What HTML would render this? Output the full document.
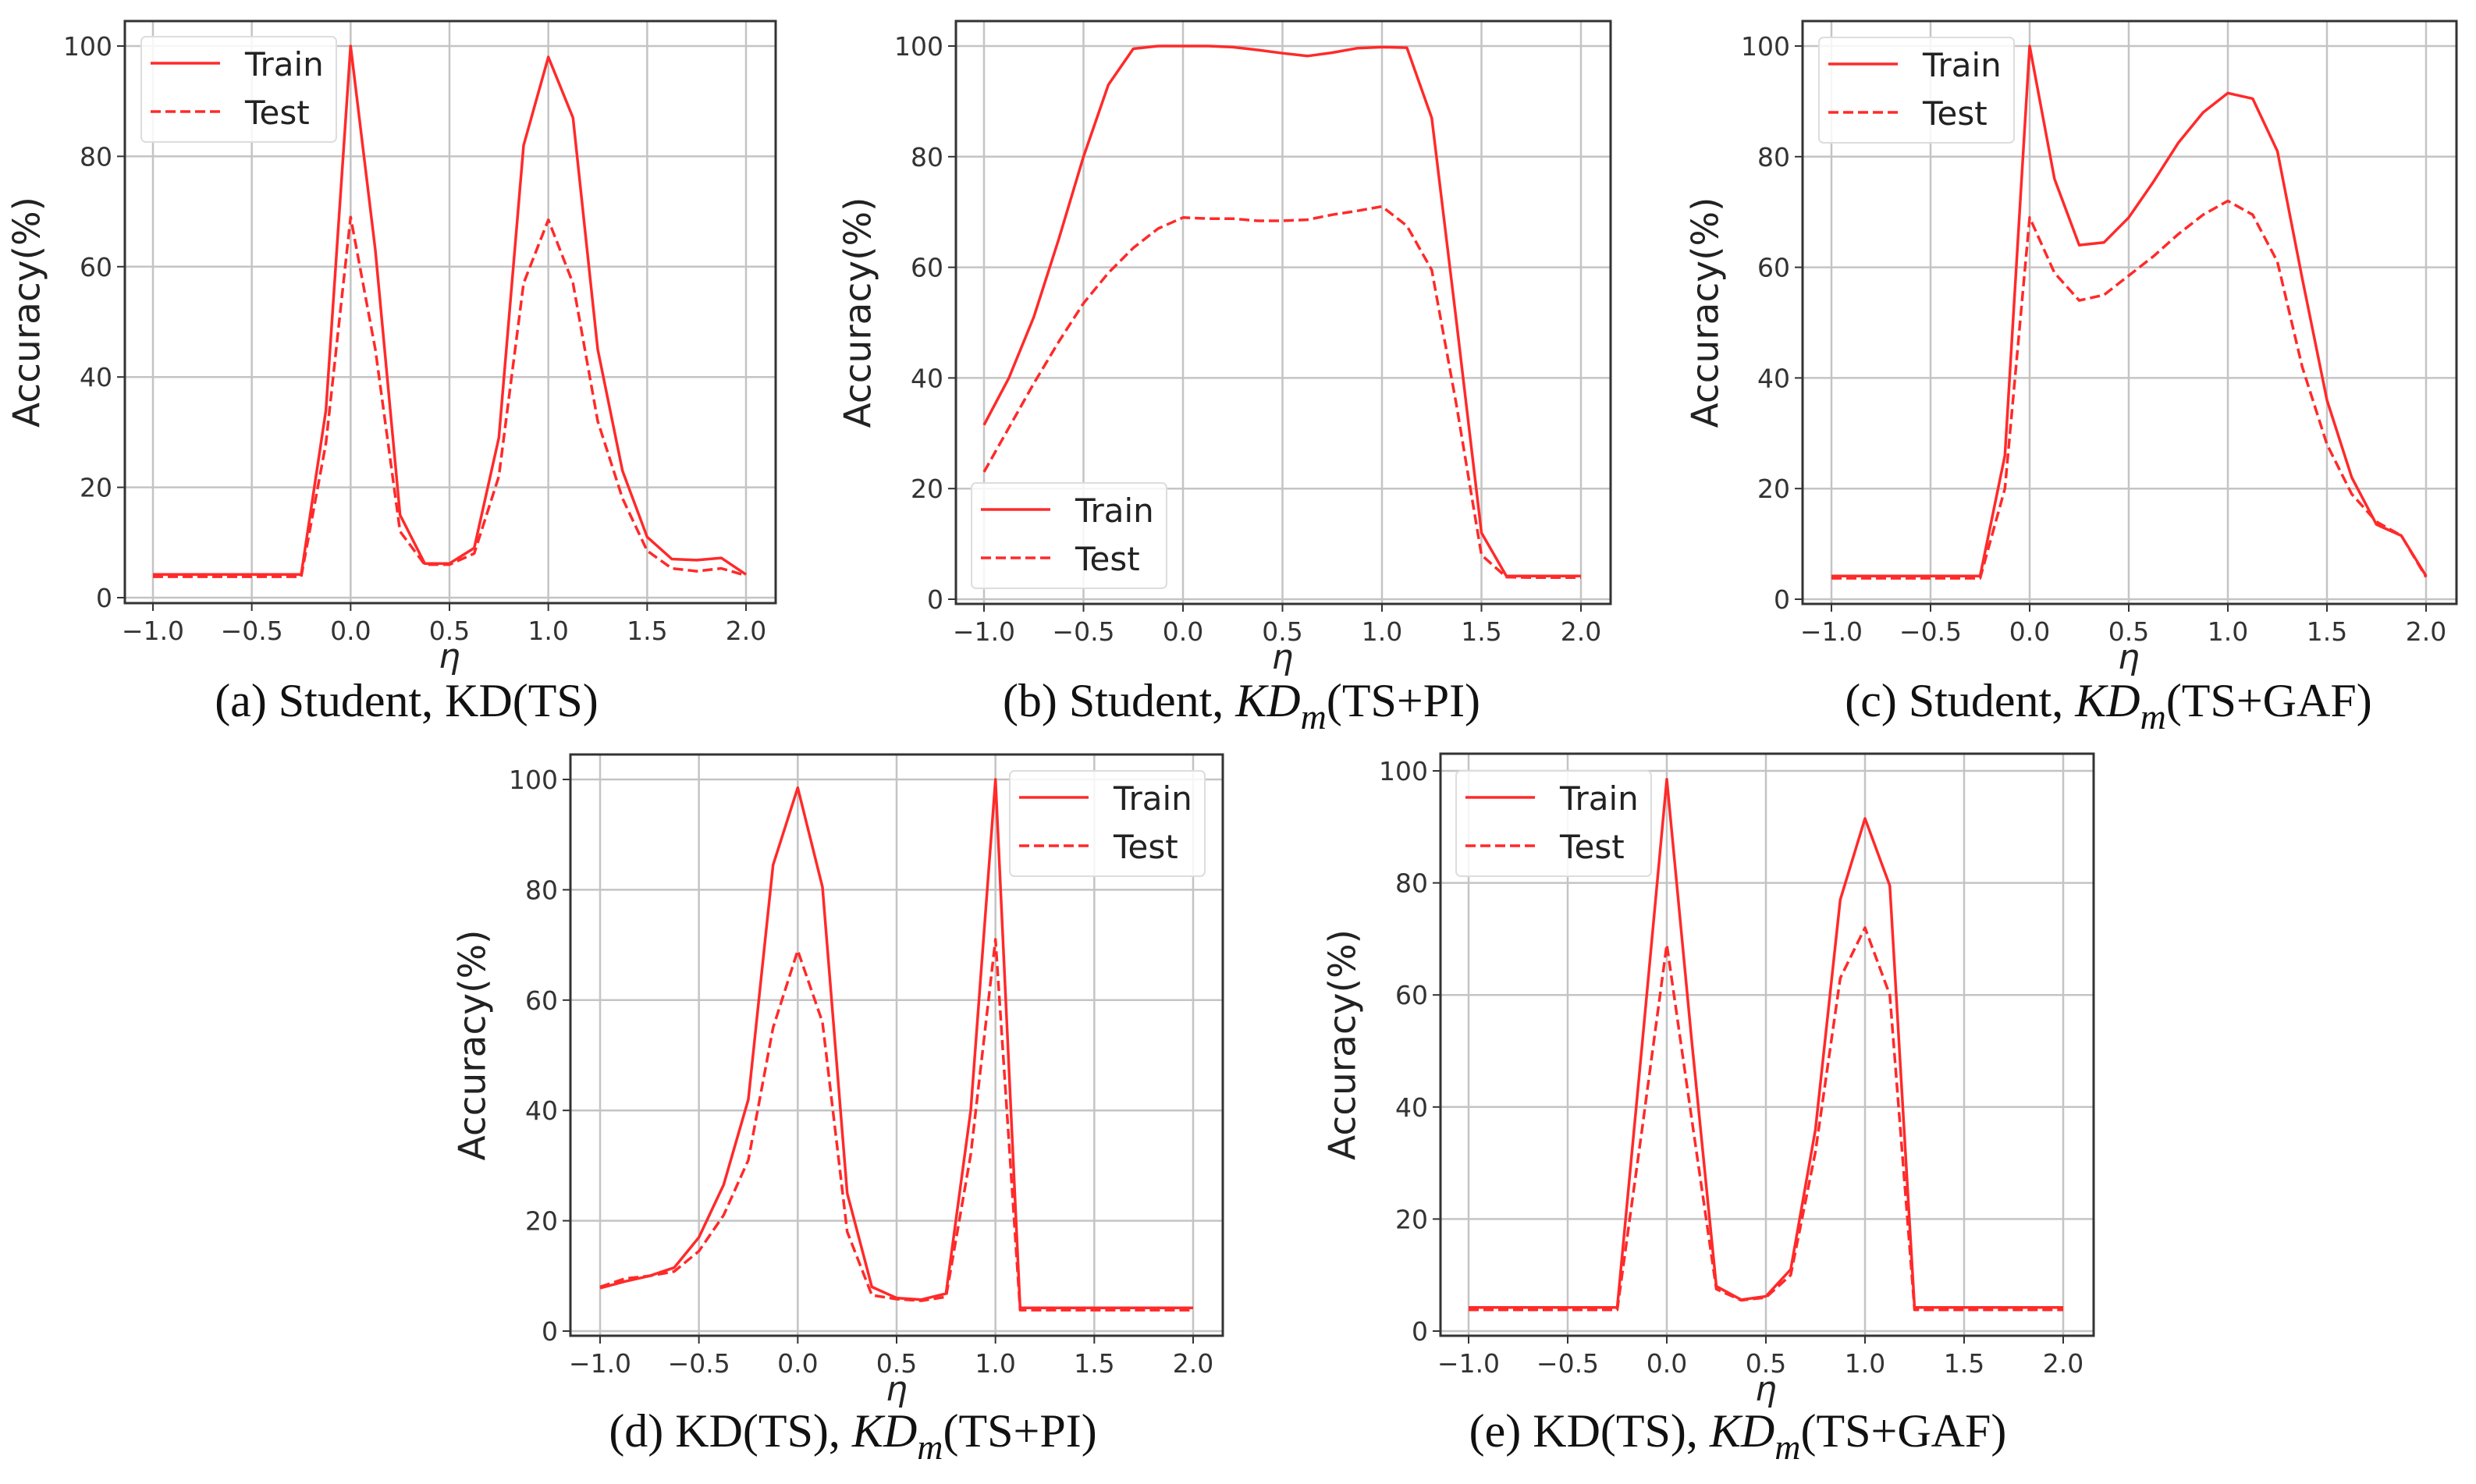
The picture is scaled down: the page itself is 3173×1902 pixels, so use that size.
<!DOCTYPE html>
<html><head><meta charset="utf-8"><style>
html,body{margin:0;padding:0;background:#fff;}
svg{display:block;}
</style></head><body>
<svg id="fig" xmlns="http://www.w3.org/2000/svg" width="3173" height="1902" viewBox="0 0 3173 1902"></svg>
<script>
const etaValues = [-1,-0.875,-0.75,-0.625,-0.5,-0.375,-0.25,-0.125,0,0.125,0.25,0.375,0.5,0.625,0.75,0.875,1,1.125,1.25,1.375,1.5,1.625,1.75,1.875,2];
const xTickLabels = ["-1.0","-0.5","0.0","0.5","1.0","1.5","2.0"];
const xTickValues = [-1,-0.5,0,0.5,1,1.5,2];
const yTickValues = [0,20,40,60,80,100];
const trainA = [4.2,4.2,4.2,4.2,4.2,4.2,4.2,34,100,63,15,6.2,6.2,9,29,82,98,87,45,23,11,7,6.8,7.2,4.2];
const testA  = [3.8,3.8,3.8,3.8,3.8,3.8,3.8,28,69,45,12,6,6,8,22,57,68.5,57,32,18,8.5,5.3,4.8,5.3,4];
const trainB = [31.5,40,51,65,80,93,99.5,100,100,100,99.8,99.3,98.7,98.2,98.8,99.6,99.8,99.7,87,50,12,4.2,4.2,4.2,4.2];
const testB  = [23,31,39,46.5,53.5,59,63.5,67,69,68.8,68.8,68.4,68.4,68.6,69.5,70.2,71,67.5,59.5,35,8,4,3.9,3.9,3.9];
const trainC = [4.2,4.2,4.2,4.2,4.2,4.2,4.2,26,100,76,64,64.5,69,75.5,82.5,88,91.5,90.5,81,58,36,22,13.5,11.5,4.2];
const testC  = [3.8,3.8,3.8,3.8,3.8,3.8,3.8,20,69,59,54,55,58.5,62,66,69.5,72,69.5,61,42,28,19,14,11.5,4];
const trainD = [7.8,9,10,11.5,17,26.5,42,84.5,98.5,80.5,25,8,6,5.7,6.8,40,100,4.2,4.2,4.2,4.2,4.2,4.2,4.2,4.2];
const testD  = [8,9.5,10,10.8,14.5,21,31,55,69,56,18,6.5,5.8,5.5,6.2,32,71,3.8,3.8,3.8,3.8,3.8,3.8,3.8,3.8];
const trainE = [4.2,4.2,4.2,4.2,4.2,4.2,4.2,51,98.5,52,8,5.6,6.2,11,36,77,91.5,79.5,4.2,4.2,4.2,4.2,4.2,4.2,4.2];
const testE  = [3.8,3.8,3.8,3.8,3.8,3.8,3.8,36,69,38,7.5,5.5,6,10,32,63,72,60,3.8,3.8,3.8,3.8,3.8,3.8,3.8];

const NS="http://www.w3.org/2000/svg";
const svg=document.getElementById('fig');
function mk(tag,attrs,parent){const e=document.createElementNS(NS,tag);for(const k in attrs)e.setAttribute(k,attrs[k]);(parent||svg).appendChild(e);return e;}

const panels=[
 {id:'a',train:trainA,test:testA,box:[160,27,994,773],x0:196,x1:956,y0:766,y100:59,ylabX:38,leg:[181,47],capY:918,capX:521,cap:['(a) Student, KD(TS)']},
 {id:'b',train:trainB,test:testB,box:[1225,27,2064,774],x0:1261,x1:2026,y0:768,y100:59,ylabX:1103,leg:[1245,619],capY:918,capX:1591,cap:['(b) Student, ','KD','m','(TS+PI)']},
 {id:'c',train:trainC,test:testC,box:[2310,27,3148,774],x0:2347,x1:3109,y0:768,y100:59,ylabX:2189,leg:[2331,48],capY:918,capX:2702,cap:['(c) Student, ','KD','m','(TS+GAF)']},
 {id:'d',train:trainD,test:testD,box:[731,967,1567,1712],x0:769,x1:1529,y0:1706,y100:999,ylabX:609,leg:[1294,988],capY:1854,capX:1093,cap:['(d) KD(TS), ','KD','m','(TS+PI)']},
 {id:'e',train:trainE,test:testE,box:[1846,966,2683,1712],x0:1882,x1:2644,y0:1706,y100:988,ylabX:1724,leg:[1866,988],capY:1854,capX:2227,cap:['(e) KD(TS),  ','KD','m','(TS+GAF)']}
];

panels.forEach(p=>{
  const g=mk('g',{});
  
  
  const xs=v=>p.x0+(v+1)/3*(p.x1-p.x0);
  const ys=v=>p.y0-(v/100)*(p.y0-p.y100);
  const [L,T,R,B]=p.box;
  xTickValues.forEach((v,i)=>{
    const gl=mk('line',{x1:xs(v),x2:xs(v),y1:T,y2:B,stroke:'#c4c4c4','stroke-width':2.5},g);
    
    
    mk('line',{x1:xs(v),x2:xs(v),y1:B,y2:B+10,stroke:'#333','stroke-width':2},g);
    const t=mk('text',{x:xs(v),y:B+47,'text-anchor':'middle','font-family':'DejaVu Sans, Liberation Sans, sans-serif','font-size':33,fill:'#333'},g);
    t.textContent=xTickLabels[i].replace('-','\u2212');
    
    
  });
  yTickValues.forEach(v=>{
    const gl=mk('line',{x1:L,x2:R,y1:ys(v),y2:ys(v),stroke:'#c4c4c4','stroke-width':2.5},g);
    
    
    mk('line',{x1:L-10,x2:L,y1:ys(v),y2:ys(v),stroke:'#333','stroke-width':2},g);
    const t=mk('text',{x:L-16,y:ys(v)+12,'text-anchor':'end','font-family':'DejaVu Sans, Liberation Sans, sans-serif','font-size':33,fill:'#333'},g);
    t.textContent=String(v);
    
    
  });
  const fr=mk('rect',{x:L,y:T,width:R-L,height:B-T,fill:'none',stroke:'#333','stroke-width':3},g);
  
  
  const pts=arr=>arr.map((v,i)=>xs(etaValues[i]).toFixed(1)+','+ys(v).toFixed(1)).join(' ');
  const tl=mk('polyline',{points:pts(p.test),fill:'none',stroke:'#ff2a2a','stroke-width':3.5,'stroke-dasharray':'13,6','stroke-linejoin':'round'},g);
  
  
  const tr=mk('polyline',{points:pts(p.train),fill:'none',stroke:'#ff2a2a','stroke-width':3.5,'stroke-linejoin':'round'},g);
  
  
  const yl=mk('text',{x:p.ylabX,y:(T+B)/2,transform:`rotate(-90 ${p.ylabX} ${(T+B)/2})`,'text-anchor':'middle','dominant-baseline':'middle','font-family':'DejaVu Sans, Liberation Sans, sans-serif','font-size':47,fill:'#222'},g);
  yl.textContent='Accuracy(%)';
  
  
  const xl=mk('text',{x:(p.x0+p.x1)/2,y:B+83,'text-anchor':'middle','font-family':'DejaVu Sans, sans-serif','font-style':'italic','font-size':44,fill:'#222'},g);
  xl.textContent='η';
  
  
  const [lx,ly]=p.leg;
  const lg=mk('g',{},g);
  
  
  mk('rect',{x:lx,y:ly,width:250,height:135,rx:6,fill:'#fff','fill-opacity':0.85,stroke:'#ddd','stroke-width':2},lg);
  mk('line',{x1:lx+12,x2:lx+101,y1:ly+34,y2:ly+34,stroke:'#ff2a2a','stroke-width':3.5},lg);
  mk('line',{x1:lx+12,x2:lx+101,y1:ly+96,y2:ly+96,stroke:'#ff2a2a','stroke-width':3.5,'stroke-dasharray':'13,6'},lg);
  const t1=mk('text',{x:lx+133,y:ly+50,'font-family':'DejaVu Sans, Liberation Sans, sans-serif','font-size':42,fill:'#222'},lg);
  t1.textContent='Train';
  
  
  const t2=mk('text',{x:lx+133,y:ly+112,'font-family':'DejaVu Sans, Liberation Sans, sans-serif','font-size':42,fill:'#222'},lg);
  t2.textContent='Test';
  
  
  const c=mk('text',{x:p.capX,y:p.capY,'text-anchor':'middle','font-family':'Liberation Serif, serif','font-size':60,fill:'#111'},g);
  
  
  if(p.cap.length===1){c.textContent=p.cap[0];}
  else{
    const s1=mk('tspan',{},c);s1.textContent=p.cap[0];
    const s2=mk('tspan',{'font-style':'italic'},c);s2.textContent=p.cap[1];
    const s3=mk('tspan',{'font-style':'italic',dy:16,'font-size':46},c);s3.textContent=p.cap[2];
    const s4=mk('tspan',{dy:-16},c);s4.textContent=p.cap[3];
  }
});
</script>
</body></html>
